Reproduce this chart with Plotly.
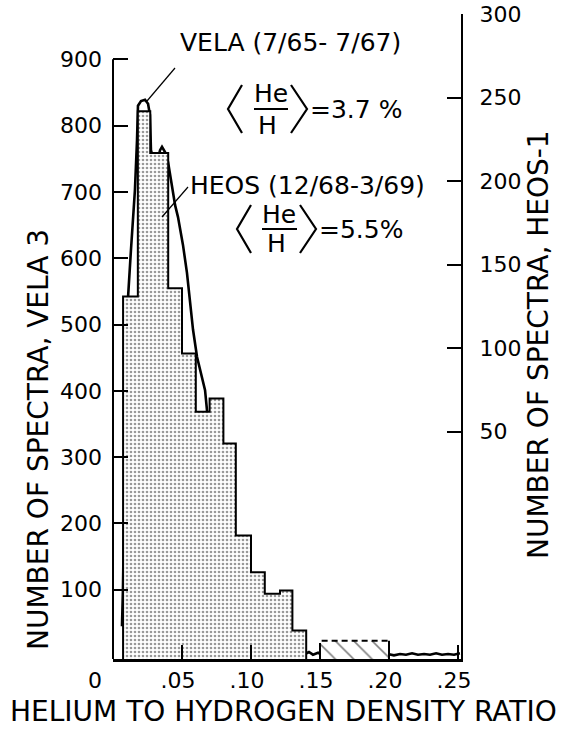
import plotly.graph_objects as go
import numpy as np

# ---------------- data ----------------
# VELA 3 (smooth curve, left axis: number of spectra)
vela_ratio = [0.0065, 0.0072, 0.0080, 0.0087, 0.0094, 0.0101, 0.0109, 0.0130, 0.0159, 0.0174,
              0.0181, 0.0203, 0.0232, 0.0254, 0.0268, 0.0275, 0.0290, 0.0319, 0.0341, 0.0355,
              0.0377, 0.0399, 0.0428, 0.0450, 0.0471, 0.0507, 0.0536, 0.0558, 0.0580, 0.0609,
              0.0638, 0.0667, 0.0681, 0.0696, 0.0717, 0.0739, 0.0761, 0.0790, 0.0819, 0.0848,
              0.0884, 0.0920, 0.0957, 0.0993, 0.1029, 0.1080, 0.1116, 0.1152, 0.1188, 0.1232,
              0.1268, 0.1297, 0.1326, 0.1362, 0.1391, 0.1420, 0.1449, 0.1486, 0.1514, 0.1551,
              0.1587, 0.1623, 0.1660, 0.1696, 0.1732, 0.1768, 0.1804, 0.1841, 0.1877, 0.1913,
              0.1949, 0.1993, 0.2036, 0.2080, 0.2123, 0.2167, 0.2210, 0.2254, 0.2297, 0.2341,
              0.2384, 0.2428, 0.2471, 0.2514]
vela_counts = [45, 100, 205, 303, 401, 492, 541, 612, 703, 778,
               830, 837, 839, 833, 816, 763, 751, 745, 763, 768,
               760, 745, 710, 680, 662, 620, 578, 537, 492, 451,
               424, 401, 371, 326, 273, 225, 179, 137, 107, 84,
               62, 47, 39, 29, 27, 24, 21, 18, 17, 12,
               9, 12, 8, 6, 3, 6, 2, 5, 1, 5,
               1, 6, 2, 6, 2, 5, 2, 4, 1, 4,
               2, 3, 1, 3, 2, 4, 2, 3, 2, 4,
               2, 3, 2, 4]

# HEOS-1 (stippled histogram)
heos_edges = [0.0073, 0.018, 0.027, 0.040, 0.050, 0.060, 0.070, 0.080, 0.089, 0.100,
              0.110, 0.121, 0.130, 0.140]
heos_counts = [217, 328, 303, 222, 183, 148, 156, 129, 74, 52, 39, 41, 17]
# HEOS dashed (uncertain) bins
heos_dash_edges = [0.15, 0.16, 0.17, 0.18, 0.19, 0.20]
heos_dash_counts = [11, 11, 11, 11, 11]

x_tickvals = [0, 0.05, 0.10, 0.15, 0.20, 0.25]
x_ticktext = ["0\u00a0\u00a0\u00a0\u00a0", ".05", ".10", ".15", ".20", ".25"]
left_ticks = [100, 200, 300, 400, 500, 600, 700, 800, 900]
right_ticks = [50, 100, 150, 200, 250, 300]

# ---------------- layout geometry ----------------
W, H = 565, 733
L, R, T, B = 113, 461, 14, 659
FONT = "DejaVu Sans"


def px(xp):
    return (xp - L) / (R - L)


def py(yp):
    return (B - yp) / (B - T)


fig = go.Figure()

# HEOS stippled bars
he = np.array(heos_edges)
fig.add_trace(go.Bar(
    x=(he[:-1] + he[1:]) / 2, y=heos_counts, width=np.diff(he),
    marker=dict(color="white", line=dict(width=0),
                pattern=dict(shape=".", fgcolor="#333333", bgcolor="white", size=4, solidity=0.35)),
    yaxis="y3", showlegend=False, hoverinfo="skip"))
# HEOS outline (stepped)
ox = [he[0]]
oy = [0]
for i, c in enumerate(heos_counts):
    ox += [he[i], he[i + 1]]
    oy += [c, c]
ox += [he[-1]]
oy += [0]
fig.add_trace(go.Scatter(x=ox, y=oy, mode="lines", line=dict(color="black", width=2),
                         yaxis="y3", showlegend=False, hoverinfo="skip"))

# HEOS dashed bins
hd = np.array(heos_dash_edges)
fig.add_trace(go.Bar(
    x=(hd[:-1] + hd[1:]) / 2, y=heos_dash_counts, width=np.diff(hd),
    marker=dict(color="white", line=dict(width=0),
                pattern=dict(shape="\\", fgcolor="black", bgcolor="white", size=13, solidity=0.12)),
    yaxis="y3", showlegend=False, hoverinfo="skip"))
dx = [hd[0]]
dy = [0]
for i, c in enumerate(heos_dash_counts):
    dx += [hd[i], hd[i + 1]]
    dy += [c, c]
fig.add_trace(go.Scatter(x=dx, y=dy, mode="lines", line=dict(color="black", width=2, dash="6px,4px"),
                         yaxis="y3", showlegend=False, hoverinfo="skip"))
fig.add_trace(go.Scatter(x=[hd[-1], hd[-1]], y=[heos_dash_counts[-1], 0], mode="lines",
                         line=dict(color="black", width=2), yaxis="y3", showlegend=False, hoverinfo="skip"))

# VELA curve
fig.add_trace(go.Scatter(x=vela_ratio, y=vela_counts, mode="lines",
                         line=dict(color="black", width=2.6), yaxis="y", showlegend=False,
                         hoverinfo="skip"))

# left axis: 0 at pixel 656, 100 per 66.3 px
y_per_px = 100 / 66.3
left_range = [-(B - 656) * y_per_px, (656 - T) * y_per_px]
# right axis: 50 per 83.5 px, 300 at top
r_per_px = 50 / 83.5
right_range = [300 - (B - T) * r_per_px, 300]

fig.update_layout(
    width=W, height=H,
    margin=dict(l=L, r=W - R, t=T, b=H - B, pad=0, autoexpand=False),
    paper_bgcolor="white", plot_bgcolor="white",
    font=dict(family=FONT, color="black", size=22),
    bargap=0, barmode="overlay",
    xaxis=dict(range=[0, (R - L) / 1380], tickvals=x_tickvals, ticktext=x_ticktext,
               ticks="inside", ticklen=14, tickwidth=2, tickcolor="black",
               showline=True, linecolor="black", linewidth=3, showgrid=False, zeroline=False,
               tickfont=dict(size=22, family=FONT), ticklabelshift=-4, ticklabelstandoff=0),
    yaxis=dict(range=left_range, tickvals=left_ticks, ticks="inside", ticklen=15, tickwidth=2,
               tickcolor="black", showline=False, showgrid=False, zeroline=False,
               tickfont=dict(size=22, family=FONT), ticklabelstandoff=10),
    yaxis2=dict(range=right_range, tickvals=right_ticks, ticks="inside", ticklen=14, tickwidth=2,
                tickcolor="black", showline=True, linecolor="black", linewidth=2,
                overlaying="y", side="right", showgrid=False, zeroline=False,
                tickfont=dict(size=22, family=FONT), ticklabelstandoff=12),
    yaxis3=dict(range=[0, (B - T) * r_per_px], overlaying="y", visible=False),
)
# dummy trace to show y2 axis
fig.add_trace(go.Scatter(x=[None], y=[None], yaxis="y2", showlegend=False))

# left axis line from bottom to 900
fig.add_shape(type="line", xref="paper", yref="y", x0=0, x1=0, y0=left_range[0], y1=900,
              line=dict(color="black", width=2))

shapes = []
# leader lines
shapes.append(dict(type="line", xref="paper", yref="paper", x0=px(175), y0=py(68), x1=px(147), y1=py(101),
                   line=dict(color="black", width=1.2)))
shapes.append(dict(type="line", xref="paper", yref="paper", x0=px(188), y0=py(187), x1=px(162), y1=py(217),
                   line=dict(color="black", width=1.2)))


def bracket_group(xl, xr, ymid, half, fx0, fx1):
    out = []
    out.append(dict(type="path", xref="paper", yref="paper",
                    path=f"M {px(xl + 14)},{py(ymid - half)} L {px(xl)},{py(ymid)} L {px(xl + 14)},{py(ymid + half)}",
                    line=dict(color="black", width=2.2)))
    out.append(dict(type="path", xref="paper", yref="paper",
                    path=f"M {px(xr - 16)},{py(ymid - half)} L {px(xr)},{py(ymid)} L {px(xr - 16)},{py(ymid + half)}",
                    line=dict(color="black", width=2.2)))
    out.append(dict(type="line", xref="paper", yref="paper", x0=px(fx0), x1=px(fx1), y0=py(ymid), y1=py(ymid),
                    line=dict(color="black", width=2.2)))
    return out


shapes += bracket_group(228, 307, 109, 24, 254, 288)
shapes += bracket_group(237, 316, 229, 24, 262, 297)
for s in shapes:
    fig.add_shape(**s)


def ann(text, xp, yp, size=25, xanchor="left", angle=0):
    fig.add_annotation(text=text, x=px(xp), y=py(yp), xref="paper", yref="paper",
                       xanchor=xanchor, yanchor="middle", showarrow=False, textangle=angle,
                       font=dict(family=FONT, size=size, color="black"))


ann("VELA (7/65- 7/67)", 178, 42)
ann("He", 271, 93, size=25, xanchor="center")
ann("H", 267, 125, size=25, xanchor="center")
ann("=3.7 %", 308, 109, size=25)
ann("HEOS (12/68-3/69)", 188, 185)
ann("He", 279, 214, size=25, xanchor="center")
ann("H", 276, 244, size=25, xanchor="center")
ann("=5.5%", 317, 229, size=25)
ann("HELIUM TO HYDROGEN DENSITY RATIO", 283, 711, size=28, xanchor="center")
ann("NUMBER OF SPECTRA, VELA 3", 38, 440, size=28, xanchor="center", angle=-90)
ann("NUMBER OF SPECTRA, HEOS-1", 538, 345, size=28, xanchor="center", angle=-90)

fig.write_html("out.html", config={"displayModeBar": False},
               post_script="document.body.style.margin='0';document.body.style.overflow='hidden';")
